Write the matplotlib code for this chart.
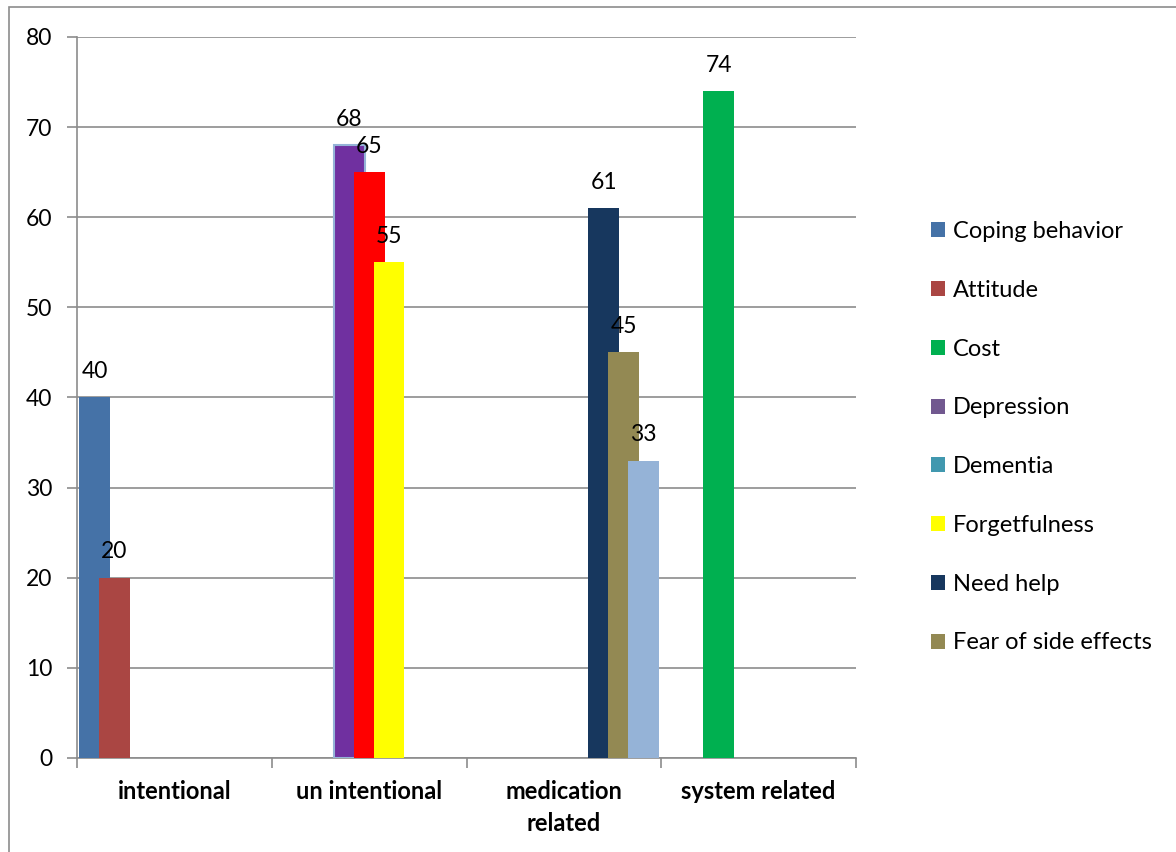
import matplotlib
matplotlib.use("Agg")
import matplotlib.pyplot as plt
from matplotlib.patches import Rectangle, Patch

plt.rcParams['font.family'] = ['Lato', 'DejaVu Sans']

categories = ["intentional", "un intentional", "medication\nrelated", "system related"]

series_names = ["Coping behavior", "Attitude", "Cost", "Depression", "Dementia",
                "Forgetfulness", "Need help", "Fear of side effects", "Other"]
# values per series for each category (None = no bar)
series_values = [
    [40, None, None, None],
    [20, None, None, None],
    [None, None, None, 74],
    [None, 68, None, None],
    [None, 65, None, None],
    [None, 55, None, None],
    [None, None, 61, None],
    [None, None, 45, None],
    [None, None, 33, None],
]
legend_colors = ["#4572A7", "#AA4643", "#00B050", "#71588F", "#4198AF",
                 "#FFFF00", "#17375E", "#938953", "#95B3D7"]
bar_colors = ["#4572A7", "#AA4643", "#00B050", "#7030A0", "#FF0000",
              "#FFFF00", "#17375E", "#938953", "#95B3D7"]
legend_count = 8

fig = plt.figure(figsize=(11.76, 8.52), dpi=100)
ax = fig.add_axes([77/1176, 1-758/852, (856-77)/1176, (758-37)/852])

n = len(series_names)
step = 0.1025
width = 0.158
for k in range(n):
    off = -0.41 + step * k
    for ci, v in enumerate(series_values[k]):
        if v is None:
            continue
        ec = "#95B3D7" if series_names[k] == "Depression" else "none"
        lw = 1.5 if ec != "none" else 0
        ax.bar(ci + off, v, width=width, color=bar_colors[k], edgecolor=ec,
               linewidth=lw, zorder=3 + k)
        ax.annotate(str(v), (ci + off, v), xytext=(0, 11), textcoords="offset points",
                    ha="center", va="bottom", fontsize=16.5, color="black", zorder=20)

ax.set_xlim(-0.5, 3.5)
ax.set_ylim(0, 80)
ax.set_yticks(range(0, 81, 10))
ax.yaxis.grid(True, color="#8C8C8C", linewidth=1.2, zorder=0)
ax.set_axisbelow(True)

ax.set_xticks(range(4))
ax.set_xticklabels(categories, fontsize=17, fontweight="bold", linespacing=1.45)
ax.set_xticks([-0.5, 0.5, 1.5, 2.5, 3.5], minor=True)
ax.tick_params(axis="x", which="major", length=0, pad=16)
ax.tick_params(axis="x", which="minor", length=7, width=1.2, color="#8C8C8C", direction="out")
ax.tick_params(axis="y", length=7, width=1.2, color="#8C8C8C", direction="out", pad=11, labelsize=16.5)

for s in ["top", "right"]:
    ax.spines[s].set_visible(False)
for s in ["left", "bottom"]:
    ax.spines[s].set_color("#8C8C8C")
    ax.spines[s].set_linewidth(1.2)

handles = [Patch(facecolor=legend_colors[k], edgecolor="none") for k in range(legend_count)]
fig.legend(handles, series_names[:legend_count], loc="upper left",
           bbox_to_anchor=(931/1176, 1-221/852), frameon=False, fontsize=17,
           labelspacing=1.6, handlelength=0.6, handleheight=0.6, handletextpad=0.34,
           borderaxespad=0, borderpad=0)

fig.patches.append(Rectangle((9/1176, -0.1), 1.5, 1.1 - 7/852, transform=fig.transFigure,
                             fill=False, edgecolor="#8C8C8C", linewidth=1.2))

fig.savefig("out.png", dpi=100)
